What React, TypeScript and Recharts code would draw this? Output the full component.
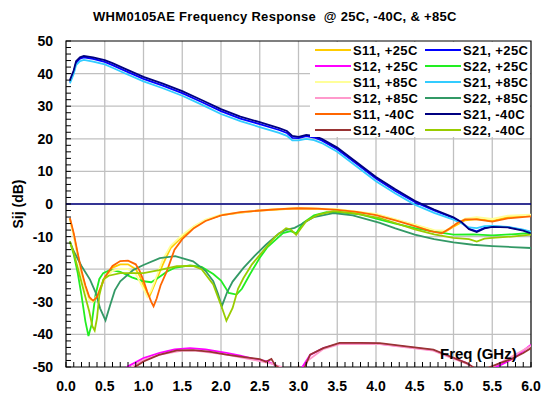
import React from 'react';
import { LineChart, Line, XAxis, YAxis, CartesianGrid, ReferenceLine, ReferenceArea } from 'recharts';

type Pt = [number, number];

const FONT = '"Liberation Sans", Arial, Helvetica, sans-serif';
const TITLE = 'WHM0105AE Frequency Response  @ 25C, -40C, & +85C';

// y ticks (dB) and x ticks (GHz)
const yMajor = [-50, -40, -30, -20, -10, 0, 10, 20, 30, 40, 50];
const xMajor = [0, 0.5, 1, 1.5, 2, 2.5, 3, 3.5, 4, 4.5, 5, 5.5, 6];
const yMinor = Array.from({ length: 51 }, (_, i) => -50 + i * 2);
const xMinor = Array.from({ length: 61 }, (_, i) => Math.round(i) / 10);

// S21 (gain)
const s21_25: Pt[] = [[0.05, 37.5], [0.1, 40.5], [0.13, 43.3], [0.18, 44.6], [0.23, 45.0], [0.35, 44.5], [0.5, 43.6], [0.6, 42.6], [0.75, 41.0], [1.0, 38.4], [1.25, 36.3], [1.5, 34.0], [1.75, 31.3], [2.0, 28.5], [2.25, 26.2], [2.5, 24.5], [2.75, 22.7], [2.85, 21.8], [2.92, 20.3], [3.0, 20.2], [3.1, 20.8], [3.2, 20.4], [3.3, 19.5], [3.5, 16.8], [3.75, 12.3], [4.0, 7.8], [4.25, 4.0], [4.5, 0.6], [4.75, -2.0], [5.0, -4.3], [5.1, -5.6], [5.2, -7.6], [5.3, -8.4], [5.4, -7.3], [5.5, -6.9], [5.7, -7.1], [5.9, -8.0], [6.0, -8.7]];
const s21_85: Pt[] = [[0.05, 37.0], [0.1, 40.0], [0.13, 42.6], [0.18, 43.8], [0.23, 44.2], [0.35, 43.7], [0.5, 42.8], [0.6, 41.8], [0.75, 40.2], [1.0, 37.6], [1.25, 35.5], [1.5, 33.2], [1.75, 30.5], [2.0, 27.6], [2.25, 25.4], [2.5, 23.6], [2.75, 21.8], [2.85, 20.9], [2.92, 19.5], [3.0, 19.5], [3.1, 20.0], [3.2, 19.6], [3.3, 18.7], [3.5, 16.0], [3.75, 11.5], [4.0, 7.0], [4.25, 3.2], [4.5, -0.2], [4.75, -2.7], [5.0, -4.8], [5.1, -5.9], [5.2, -7.2], [5.3, -7.4], [5.4, -6.8], [5.5, -6.7], [5.7, -7.0], [5.9, -7.9], [6.0, -8.5]];
const s21_m40: Pt[] = [[0.05, 38.0], [0.1, 41.0], [0.13, 43.8], [0.18, 45.0], [0.23, 45.4], [0.35, 45.0], [0.5, 44.1], [0.6, 43.2], [0.75, 41.6], [1.0, 39.0], [1.25, 36.9], [1.5, 34.6], [1.75, 31.9], [2.0, 29.1], [2.25, 26.8], [2.5, 25.1], [2.75, 23.3], [2.85, 22.4], [2.92, 20.9], [3.0, 20.6], [3.1, 21.2], [3.2, 20.9], [3.3, 20.0], [3.5, 17.3], [3.75, 12.8], [4.0, 8.3], [4.25, 4.5], [4.5, 1.0], [4.75, -1.7], [5.0, -4.1], [5.1, -5.5], [5.2, -7.7], [5.3, -8.6], [5.4, -7.5], [5.5, -7.0], [5.7, -7.2], [5.9, -8.2], [6.0, -9.0]];

// S11 (input return loss)
const s11_25: Pt[] = [[0.05, -4.5], [0.1, -9.5], [0.15, -15.5], [0.2, -21], [0.25, -25.5], [0.3, -29], [0.35, -30], [0.4, -28.5], [0.45, -25.5], [0.5, -22.5], [0.6, -19.5], [0.7, -18.5], [0.8, -18.5], [0.9, -20], [0.95, -22], [1.0, -25], [1.05, -27.5], [1.08, -28.2], [1.12, -26], [1.18, -22.5], [1.25, -18.5], [1.35, -13.5], [1.5, -10], [1.65, -7], [1.8, -5], [2.0, -3.4], [2.5, -2], [3.0, -1.3], [3.5, -1.7], [4.0, -3.2], [4.5, -6.5], [4.75, -8.2], [4.9, -8.4], [5.0, -7], [5.15, -5], [5.3, -4.6], [5.5, -5.2], [5.7, -4], [6.0, -3.5]];
const s11_85: Pt[] = [[0.05, -5], [0.1, -10], [0.15, -16], [0.2, -21.5], [0.25, -26], [0.3, -29.5], [0.35, -30], [0.4, -28], [0.5, -23], [0.6, -20.5], [0.7, -19.8], [0.8, -20], [0.9, -21.5], [1.0, -26], [1.05, -28.5], [1.1, -26.5], [1.18, -21.5], [1.25, -17], [1.35, -12.8], [1.5, -9.5], [1.65, -6.8], [1.8, -4.8], [2.0, -3.3], [2.5, -1.9], [3.0, -1.2], [3.5, -1.6], [4.0, -3], [4.5, -6.3], [4.75, -8], [4.9, -8.2], [5.0, -6.5], [5.15, -4.5], [5.3, -4], [5.5, -4.6], [5.7, -3.6], [6.0, -3.3]];
const s11_m40: Pt[] = [[0.05, -4.3], [0.1, -9], [0.15, -15], [0.2, -20.5], [0.25, -25], [0.3, -28.5], [0.35, -29.7], [0.4, -28.5], [0.45, -25.5], [0.5, -22.5], [0.6, -19], [0.7, -17.5], [0.8, -17.4], [0.9, -18.5], [0.95, -20.5], [1.0, -23.5], [1.05, -27], [1.1, -30], [1.13, -31.4], [1.17, -29], [1.22, -25], [1.3, -20.7], [1.4, -14], [1.5, -10.8], [1.65, -7.4], [1.8, -5.2], [2.0, -3.5], [2.25, -2.5], [2.5, -2.0], [2.75, -1.6], [3.0, -1.3], [3.25, -1.4], [3.5, -1.8], [3.75, -2.4], [4.0, -3.4], [4.25, -5], [4.5, -6.8], [4.7, -8.3], [4.85, -9], [4.95, -7.5], [5.05, -5.8], [5.15, -4.7], [5.3, -4.7], [5.5, -5.4], [5.7, -4.4], [6.0, -3.8]];

// S22 (output return loss)
const s22_25: Pt[] = [[0.05, -11.5], [0.1, -15.5], [0.15, -21], [0.2, -28], [0.25, -36], [0.29, -40.5], [0.33, -37], [0.38, -28], [0.43, -23], [0.48, -21.2], [0.57, -20.2], [0.7, -20.8], [0.85, -22.5], [1.0, -23.7], [1.1, -24], [1.2, -22.5], [1.3, -20.8], [1.4, -19.6], [1.6, -18.8], [1.75, -19.3], [1.9, -21.5], [2.0, -23.5], [2.1, -27.3], [2.2, -27.8], [2.27, -26], [2.37, -21.7], [2.5, -16.5], [2.6, -13.2], [2.8, -8.9], [2.9, -8.3], [2.97, -9], [3.06, -5.8], [3.2, -3.5], [3.36, -2.5], [3.6, -2.7], [3.8, -3.2], [4.05, -4.8], [4.25, -6], [4.5, -7.4], [4.75, -8.5], [5.0, -9.4], [5.25, -9.3], [5.5, -9.6], [5.75, -9.3], [6.0, -8.9]];
const s22_85: Pt[] = [[0.05, -11.5], [0.1, -14.5], [0.2, -19], [0.31, -23.2], [0.38, -27], [0.44, -32], [0.51, -35.7], [0.57, -31], [0.63, -26.5], [0.7, -23.7], [0.87, -20.2], [1.0, -18.7], [1.21, -16.6], [1.41, -16], [1.64, -17.6], [1.8, -20.5], [1.9, -23.7], [1.96, -27.5], [2.01, -31.4], [2.08, -27], [2.15, -23.8], [2.29, -19.6], [2.45, -15.5], [2.58, -12.5], [2.75, -9], [2.84, -7.9], [2.95, -7.3], [3.03, -6.3], [3.2, -4], [3.45, -2.8], [3.7, -3.5], [4.05, -5.8], [4.25, -7.5], [4.5, -9.4], [4.75, -10.8], [5.0, -11.8], [5.25, -12.5], [5.5, -12.9], [5.75, -13.2], [6.0, -13.5]];
const s22_m40: Pt[] = [[0.05, -11.5], [0.1, -15], [0.15, -19.5], [0.2, -24], [0.25, -28.5], [0.3, -33], [0.34, -37.5], [0.37, -38.8], [0.4, -35], [0.43, -28], [0.48, -23.2], [0.55, -22], [0.7, -21.2], [1.0, -21.2], [1.2, -20.3], [1.43, -19.1], [1.64, -19], [1.75, -20], [1.9, -24.7], [2.0, -31], [2.07, -35.8], [2.15, -31.9], [2.22, -26], [2.29, -22.7], [2.4, -18.5], [2.54, -14.5], [2.7, -10], [2.84, -7.4], [2.9, -7.8], [2.97, -9.5], [3.03, -7.5], [3.1, -5.3], [3.25, -3.3], [3.45, -2.2], [3.7, -2.8], [4.05, -4.3], [4.5, -7.8], [4.75, -9.3], [5.0, -10.4], [5.2, -10.8], [5.3, -11.5], [5.4, -10.6], [5.5, -10.4], [5.75, -10], [6.0, -9.4]];

// S12 (isolation)
const s12_25: Pt[] = [[0.7, -52], [0.8, -49.8], [1.0, -47.3], [1.21, -45.7], [1.4, -44.6], [1.6, -44.2], [1.8, -44.6], [2.07, -45.7], [2.25, -46.5], [2.42, -47.5], [2.6, -48.3], [2.75, -50], [2.85, -52], [3.0, -54], [3.05, -50], [3.15, -46.3], [3.32, -44.2], [3.53, -42.8], [3.79, -42.7], [4.05, -42.9], [4.39, -43.8], [4.74, -44.8], [4.95, -46.8], [5.17, -48.8], [5.27, -50.5], [5.4, -51], [5.6, -49.5], [5.8, -47], [5.9, -45], [6.0, -43.2]];
const s12_85: Pt[] = [[0.75, -52], [0.85, -50], [1.0, -47.8], [1.21, -46.2], [1.5, -45], [1.64, -44.9], [2.07, -46.2], [2.42, -47.8], [2.65, -49], [2.78, -50], [2.9, -52], [3.05, -52], [3.12, -48], [3.32, -44.5], [3.53, -43], [4.05, -43], [4.39, -44], [4.74, -45], [4.95, -47], [5.17, -49], [5.3, -51], [5.5, -50], [5.7, -47.5], [5.85, -45.5], [6.0, -43.5]];
const s12_m40: Pt[] = [[0.8, -52], [0.89, -50], [1.0, -48.3], [1.2, -46.3], [1.43, -44.9], [1.64, -44.8], [1.85, -45.3], [2.07, -46.2], [2.3, -47], [2.5, -47.6], [2.58, -48.4], [2.65, -47.5], [2.7, -49.5], [2.8, -51], [2.95, -53], [3.0, -50], [3.02, -53], [3.08, -50], [3.15, -46.2], [3.32, -44.2], [3.53, -42.6], [3.79, -42.6], [4.05, -42.7], [4.39, -43.7], [4.74, -44.7], [4.95, -46.7], [5.17, -48.8], [5.25, -50], [5.35, -51.5], [5.47, -50], [5.6, -48.8], [5.75, -47.5], [5.9, -45.7], [6.0, -44.2]];

// legend order (row major, two columns) is also the drawing order
const series = [
  { name: 'S11, +25C', color: '#FFCC00', pts: s11_25 },
  { name: 'S21, +25C', color: '#0000FF', pts: s21_25 },
  { name: 'S12, +25C', color: '#FF00FF', pts: s12_25 },
  { name: 'S22, +25C', color: '#22EE22', pts: s22_25 },
  { name: 'S11, +85C', color: '#FFFF99', pts: s11_85 },
  { name: 'S21, +85C', color: '#33CCFF', pts: s21_85 },
  { name: 'S12, +85C', color: '#FF99CC', pts: s12_85 },
  { name: 'S22, +85C', color: '#339966', pts: s22_85 },
  { name: 'S11, -40C', color: '#FF6600', pts: s11_m40 },
  { name: 'S21, -40C', color: '#000080', pts: s21_m40 },
  { name: 'S12, -40C', color: '#993333', pts: s12_m40 },
  { name: 'S22, -40C', color: '#99CC00', pts: s22_m40 },
];

const XTick = (props: any) => {
  const { x, y, payload } = props;
  const v = payload.value;
  const major = Math.round(v * 10) % 5 === 0;
  return (
    <g>
      <line x1={x} x2={x} y1={y} y2={y - 5} stroke="#000" strokeWidth={1} />
      {major && (
        <text x={x} y={y + 24} textAnchor="middle" fontFamily={FONT} fontSize={14} fontWeight="bold" fill="#000">
          {v.toFixed(1)}
        </text>
      )}
    </g>
  );
};

const YTick = (props: any) => {
  const { x, y, payload } = props;
  const v = payload.value;
  const major = v % 10 === 0;
  return (
    <g>
      <line x1={x} x2={x + 5} y1={y} y2={y} stroke="#000" strokeWidth={1} />
      {major && (
        <text x={x - 13} y={y + 5} textAnchor="end" fontFamily={FONT} fontSize={14} fontWeight="bold" fill="#000">
          {v}
        </text>
      )}
    </g>
  );
};

const LegendBox = () => {
  const rows: typeof series[] = [];
  for (let i = 0; i < series.length; i += 2) rows.push(series.slice(i, i + 2));
  return (
    <div style={{ position: 'absolute', left: 310, top: 42, width: 220, height: 95, background: '#fff' }}>
      {rows.map((r, i) => (
        <div key={i} style={{ position: 'absolute', top: i * 16, left: 0, height: 16, width: 220 }}>
          {r.map((s, j) => (
            <div key={s.name} style={{ position: 'absolute', left: j === 0 ? 5 : 115, top: 0, height: 16, display: 'flex', alignItems: 'center' }}>
              <div style={{ width: 36, height: 2, background: s.color }} />
              <span style={{ marginLeft: 2, fontSize: 13, fontWeight: 'bold', letterSpacing: 0.4, whiteSpace: 'pre', color: '#000' }}>{s.name}</span>
            </div>
          ))}
        </div>
      ))}
    </div>
  );
};

export default function App() {
  return (
    <div style={{ position: 'absolute', left: 0, top: 0, width: 542, height: 401, background: '#fff', fontFamily: FONT }}>
      <LineChart width={542} height={401} margin={{ top: 41, right: 11, bottom: 0, left: 0 }}>
        <CartesianGrid
          stroke="#C0C0C0"
          strokeWidth={1.3}
          horizontalValues={yMajor.slice(1, -1)}
          verticalValues={xMajor.slice(1, -1)}
        />
        <XAxis
          dataKey="f"
          type="number"
          domain={[0, 6]}
          allowDataOverflow
          ticks={xMinor}
          interval={0}
          height={34}
          tickSize={0}
          tickMargin={0}
          tickLine={false}
          axisLine={false}
          tick={(p: any) => <XTick {...p} />}
        />
        <YAxis
          type="number"
          domain={[-50, 50]}
          allowDataOverflow
          ticks={yMinor}
          interval={0}
          width={66}
          tickSize={0}
          tickMargin={0}
          tickLine={false}
          axisLine={false}
          tick={(p: any) => <YTick {...p} />}
        />
        <ReferenceLine y={0} stroke="#000080" strokeWidth={1.5} />
        {series.map((s) => (
          <Line
            key={s.name}
            name={s.name}
            data={s.pts.map(([f, v]) => ({ f, v }))}
            dataKey="v"
            stroke={s.color}
            strokeWidth={1.8}
            dot={false}
            type="linear"
            isAnimationActive={false}
          />
        ))}
        <ReferenceArea x1={0} x2={6} y1={-50} y2={50} fill="none" stroke="#000" strokeWidth={1.2} />
      </LineChart>
      <div style={{ position: 'absolute', left: 93, top: 9, fontSize: 13, fontWeight: 'bold', letterSpacing: 0.3, whiteSpace: 'pre', color: '#000' }}>{TITLE}</div>
      <div style={{ position: 'absolute', left: 18, top: 204, transform: 'translate(-50%, -50%) rotate(-90deg)', fontSize: 14, fontWeight: 'bold', whiteSpace: 'pre', color: '#000' }}>Sij (dB)</div>
      <div style={{ position: 'absolute', left: 440, top: 345, fontSize: 15, fontWeight: 'bold', whiteSpace: 'pre', color: '#000' }}>Freq (GHz)</div>
      <LegendBox />
    </div>
  );
}
